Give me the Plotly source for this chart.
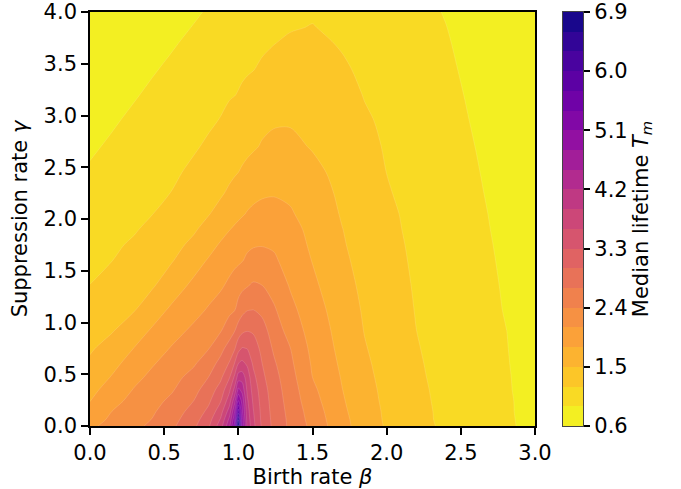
import plotly.graph_objects as go
from plotly.colors import sample_colorscale

# ---- data ----
beta = [0.0, 0.15, 0.3, 0.42, 0.55, 0.7, 0.8, 0.88, 0.94, 0.975, 1.0, 1.025, 1.06,
        1.1, 1.16, 1.24, 1.35, 1.5, 1.7, 1.85, 2.0, 2.2, 2.4, 2.6, 2.8, 3.0]
gamma = [0.0, 0.06, 0.14, 0.24, 0.35, 0.47, 0.6, 0.75, 0.92, 1.12, 1.35, 1.6, 1.75,
         1.9, 2.05, 2.25, 2.45, 2.7, 2.95, 3.2, 3.45, 3.7, 3.85, 4.0]

# median lifetime T_m: one row per gamma value, one column per beta value
t_m = [
    [2.05, 2.19, 2.33, 2.46, 2.64, 2.94, 3.26, 3.75, 4.43, 5.21, 6.95, 5.10, 4.13, 3.69, 3.25, 2.92, 2.64, 2.32, 1.89, 1.664, 1.47, 1.29, 1.15, 1.042, 0.94, 0.83],
    [1.98, 2.153, 2.29, 2.41, 2.60, 2.88, 3.19, 3.63, 4.28, 5.02, 6.60, 5.00, 4.09, 3.66, 3.23, 2.91, 2.63, 2.29, 1.88, 1.652, 1.46, 1.284, 1.14, 1.039, 0.935, 0.83],
    [1.90, 2.105, 2.25, 2.365, 2.54, 2.81, 3.07, 3.47, 4.04, 4.78, 5.85, 4.87, 4.03, 3.62, 3.21, 2.89, 2.61, 2.26, 1.856, 1.636, 1.454, 1.276, 1.14, 1.036, 0.93, 0.83],
    [1.795, 2.015, 2.19, 2.31, 2.46, 2.705, 2.95, 3.28, 3.77, 4.41, 5.15, 4.71, 3.95, 3.56, 3.18, 2.87, 2.58, 2.21, 1.83, 1.617, 1.44, 1.265, 1.135, 1.032, 0.93, 0.825],
    [1.72, 1.92, 2.12, 2.24, 2.37, 2.61, 2.84, 3.12, 3.54, 3.98, 4.58, 4.41, 3.84, 3.49, 3.14, 2.84, 2.55, 2.16, 1.805, 1.595, 1.43, 1.254, 1.13, 1.027, 0.924, 0.82],
    [1.64, 1.82, 2.03, 2.166, 2.30, 2.50, 2.705, 2.94, 3.28, 3.66, 4.045, 4.066, 3.766, 3.39, 3.07, 2.80, 2.51, 2.10, 1.78, 1.572, 1.415, 1.242, 1.12, 1.021, 0.92, 0.82],
    [1.55, 1.73, 1.92, 2.078, 2.22, 2.37, 2.57, 2.79, 3.03, 3.32, 3.61, 3.68, 3.56, 3.26, 3.005, 2.74, 2.46, 2.065, 1.75, 1.548, 1.40, 1.229, 1.116, 1.015, 0.914, 0.82],
    [1.465, 1.618, 1.81, 1.958, 2.12, 2.28, 2.39, 2.61, 2.82, 2.97, 3.20, 3.32, 3.293, 3.175, 2.91, 2.66, 2.405, 2.02, 1.72, 1.519, 1.385, 1.215, 1.11, 1.008, 0.91, 0.81],
    [1.39, 1.484, 1.67, 1.834, 1.99, 2.16, 2.28, 2.38, 2.56, 2.69, 2.84, 2.94, 2.99, 2.96, 2.81, 2.57, 2.28, 1.98, 1.69, 1.492, 1.37, 1.201, 1.10, 1.0, 0.905, 0.80],
    [1.30, 1.396, 1.49, 1.666, 1.85, 2.01, 2.13, 2.25, 2.34, 2.39, 2.51, 2.61, 2.69, 2.705, 2.64, 2.44, 2.18, 1.93, 1.65, 1.469, 1.345, 1.188, 1.09, 0.99, 0.89, 0.795],
    [1.205, 1.30, 1.40, 1.476, 1.66, 1.87, 1.98, 2.06, 2.17, 2.25, 2.29, 2.34, 2.39, 2.44, 2.41, 2.29, 2.08, 1.86, 1.60, 1.442, 1.32, 1.175, 1.077, 0.979, 0.88, 0.785],
    [1.14, 1.198, 1.30, 1.385, 1.48, 1.68, 1.825, 1.92, 1.985, 2.025, 2.055, 2.085, 2.145, 2.20, 2.21, 2.14, 1.99, 1.79, 1.55, 1.414, 1.294, 1.16, 1.06, 0.965, 0.868, 0.78],
    [1.10, 1.16, 1.236, 1.324, 1.419, 1.558, 1.705, 1.83, 1.929, 1.975, 2.003, 2.027, 2.054, 2.075, 2.087, 2.067, 1.94, 1.754, 1.524, 1.398, 1.279, 1.151, 1.054, 0.957, 0.86, 0.775],
    [1.06, 1.122, 1.18, 1.26, 1.36, 1.47, 1.59, 1.70, 1.79, 1.84, 1.875, 1.905, 1.94, 1.967, 1.99, 1.98, 1.90, 1.72, 1.505, 1.382, 1.26, 1.143, 1.045, 0.949, 0.85, 0.77],
    [1.025, 1.086, 1.147, 1.196, 1.294, 1.411, 1.488, 1.584, 1.662, 1.708, 1.74, 1.773, 1.817, 1.856, 1.89, 1.891, 1.83, 1.676, 1.478, 1.363, 1.248, 1.133, 1.036, 0.94, 0.843, 0.765],
    [0.975, 1.037, 1.10, 1.148, 1.205, 1.325, 1.405, 1.47, 1.54, 1.59, 1.63, 1.66, 1.70, 1.73, 1.765, 1.78, 1.75, 1.65, 1.44, 1.332, 1.22, 1.118, 1.02, 0.927, 0.83, 0.755],
    [0.925, 0.989, 1.054, 1.105, 1.157, 1.249, 1.332, 1.398, 1.448, 1.477, 1.50, 1.531, 1.574, 1.615, 1.66, 1.687, 1.672, 1.577, 1.409, 1.303, 1.198, 1.103, 1.009, 0.914, 0.82, 0.75],
    [0.87, 0.931, 1.00, 1.051, 1.11, 1.175, 1.235, 1.30, 1.35, 1.375, 1.39, 1.415, 1.44, 1.47, 1.52, 1.57, 1.567, 1.48, 1.355, 1.263, 1.18, 1.085, 0.99, 0.898, 0.80, 0.74],
    [0.82, 0.877, 0.941, 0.995, 1.054, 1.122, 1.167, 1.21, 1.279, 1.315, 1.338, 1.359, 1.386, 1.413, 1.444, 1.469, 1.475, 1.445, 1.32, 1.23, 1.16, 1.067, 0.973, 0.88, 0.787, 0.73],
    [0.78, 0.833, 0.885, 0.936, 0.997, 1.066, 1.113, 1.15, 1.178, 1.194, 1.213, 1.24, 1.273, 1.307, 1.348, 1.384, 1.40, 1.38, 1.29, 1.19, 1.126, 1.039, 0.952, 0.865, 0.78, 0.72],
    [0.74, 0.791, 0.841, 0.882, 0.935, 1.005, 1.051, 1.088, 1.117, 1.133, 1.145, 1.156, 1.173, 1.191, 1.238, 1.293, 1.328, 1.316, 1.231, 1.157, 1.096, 1.014, 0.932, 0.85, 0.769, 0.71],
    [0.70, 0.75, 0.80, 0.84, 0.88, 0.944, 0.99, 1.027, 1.055, 1.07, 1.082, 1.093, 1.11, 1.128, 1.155, 1.193, 1.242, 1.25, 1.18, 1.124, 1.067, 0.99, 0.914, 0.837, 0.76, 0.69],
    [0.68, 0.728, 0.776, 0.815, 0.857, 0.907, 0.949, 0.983, 1.008, 1.023, 1.034, 1.044, 1.059, 1.076, 1.101, 1.135, 1.181, 1.21, 1.141, 1.09, 1.039, 0.971, 0.903, 0.827, 0.751, 0.685],
    [0.66, 0.707, 0.755, 0.792, 0.83, 0.88, 0.914, 0.944, 0.967, 0.98, 0.99, 0.999, 1.013, 1.028, 1.05, 1.08, 1.14, 1.17, 1.10, 1.057, 1.013, 0.953, 0.89, 0.82, 0.745, 0.68],
]

x_ticks = [0.0, 0.5, 1.0, 1.5, 2.0, 2.5, 3.0]
y_ticks = [0.0, 0.5, 1.0, 1.5, 2.0, 2.5, 3.0, 3.5, 4.0]
cb_ticks = [0.6, 1.5, 2.4, 3.3, 4.2, 5.1, 6.0, 6.9]

level_start, level_end, level_step = 0.6, 6.9, 0.3
n_bands = 21

# matplotlib "plasma" anchor colours (0 -> 1)
plasma = ["#0d0887", "#41049d", "#6a00a8", "#8f0da4", "#b12a90", "#cc4778",
          "#e16462", "#f2844b", "#fca636", "#fcce25", "#f0f921"]

# ---- one flat colour per band, from reversed plasma at band centres ----
plasma_scale = [[i / (len(plasma) - 1), c] for i, c in enumerate(plasma)]
band_cols = sample_colorscale(plasma_scale, [1 - (k + 0.5) / n_bands for k in range(n_bands)])

# plotly evaluates the fill of band k at position (k+1)/(n_bands+1)
nc = n_bands + 1
contour_scale = [[0.0, band_cols[0]]]
for k in range(n_bands):
    contour_scale.append([(k + 1) / nc, band_cols[k]])
contour_scale.append([1.0, band_cols[-1]])

band_mid = [level_start + level_step * (k + 0.5) for k in range(n_bands)]
bar_scale = [[k / (n_bands - 1), band_cols[k]] for k in range(n_bands)]

FONT = "DejaVu Sans"
FS = 21

# geometry in pixels
W, H = 681, 489
ML, MT, MB, MR = 90, 12, 63, 13
paper_w = W - ML - MR
plot_right = 535
cb_left, cb_right = 563, 583

fig = go.Figure()

fig.add_trace(go.Contour(
    x=beta, y=gamma, z=t_m,
    colorscale=contour_scale, showscale=False,
    autocontour=False,
    contours=dict(start=level_start, end=level_end, size=level_step,
                  coloring="fill", showlines=True),
    line=dict(width=0.6, color="rgba(255,255,255,0.22)", smoothing=0.85),
    hoverinfo="skip",
    xaxis="x", yaxis="y",
))

# colour bar drawn as a one-column heatmap of the band levels
fig.add_trace(go.Heatmap(
    x=[0.5], y=band_mid, z=[[k] for k in range(n_bands)],
    colorscale=bar_scale, zmin=0, zmax=n_bands - 1, showscale=False,
    hoverinfo="skip", xaxis="x2", yaxis="y2",
))

axis_common = dict(
    showline=True, mirror=True, linecolor="black", linewidth=1.6,
    ticks="outside", ticklen=7, tickwidth=1.6, tickcolor="black",
    showgrid=False, zeroline=False, ticklabeloverflow="allow",
    tickfont=dict(family=FONT, size=FS, color="black"),
)

fig.update_layout(
    width=W, height=H,
    margin=dict(l=ML, r=MR, t=MT, b=MB, autoexpand=False),
    paper_bgcolor="white", plot_bgcolor="white",
    font=dict(family=FONT, size=FS, color="black"),
    showlegend=False,
    xaxis=dict(domain=[0, (plot_right - ML) / paper_w], range=[0, 3],
               tickmode="array", tickvals=x_ticks,
               ticktext=[f"{v:.1f}" for v in x_ticks],
               title=dict(text="Birth rate <i>β</i>", standoff=6,
                          font=dict(family=FONT, size=FS)),
               automargin=False, anchor="y",
               **axis_common),
    yaxis=dict(domain=[0, 1], range=[0, 4], tickmode="array", tickvals=y_ticks,
               ticktext=[f"{v:.1f}" for v in y_ticks],
               title=dict(text="Suppression rate <i>γ</i>", standoff=10,
                          font=dict(family=FONT, size=FS)),
               automargin=False, anchor="x",
               **axis_common),
    xaxis2=dict(domain=[(cb_left - ML) / paper_w, (cb_right - ML) / paper_w],
                range=[0, 1], showticklabels=False, ticks="",
                showline=True, mirror=True, linecolor="#444444", linewidth=1.2,
                showgrid=False, zeroline=False, anchor="y2", fixedrange=True),
    yaxis2=dict(domain=[0, 1], range=[level_start, level_end], anchor="x2",
                side="right", tickmode="array", tickvals=cb_ticks,
                ticktext=[f"{v:.1f}" for v in cb_ticks],
                ticks="outside", ticklen=6, tickwidth=1.5, tickcolor="black",
                showline=True, mirror=True, linecolor="#444444", linewidth=1.2,
                showgrid=False, zeroline=False, automargin=False,
                ticklabeloverflow="allow",
                tickfont=dict(family=FONT, size=FS, color="black"),
                title=dict(text="Median lifetime <i>T</i><sub><i>m</i></sub>",
                           standoff=6, font=dict(family=FONT, size=FS)),
                fixedrange=True),
)

# remove the default page margin so the figure sits at the window's top-left corner
fig.write_html("out.html", config={"displayModeBar": False},
               post_script="document.body.style.margin='0px';")
